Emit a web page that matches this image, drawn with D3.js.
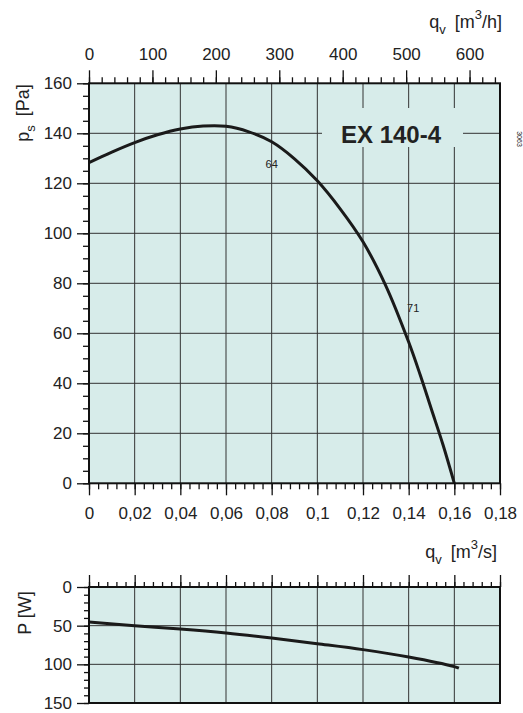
<!DOCTYPE html>
<html>
<head>
<meta charset="utf-8">
<script src="https://cdn.jsdelivr.net/npm/d3@7"></script>
<style>
  body { margin: 0; background: #fff; }
  text { font-family: "Liberation Sans", Arial, sans-serif; fill: #222; }
</style>
</head>
<body>
<div class="chart"></div>
<script>
// fan curve data
const qPs = [0, 0.01, 0.02, 0.03, 0.04, 0.05, 0.06, 0.07, 0.08, 0.09, 0.10, 0.11, 0.12, 0.13, 0.14, 0.145, 0.15, 0.155, 0.16];
const psVals = [128.3, 132.5, 136.3, 139.4, 141.7, 142.9, 142.8, 140.6, 136.6, 129.8, 121.0, 109.8, 96.6, 79.0, 56.5, 43.5, 29.5, 15.5, 0];
const qPw = [0, 0.02, 0.04, 0.06, 0.08, 0.10, 0.12, 0.14, 0.16, 0.162];
const pwVals = [45.3, 50, 54.3, 59.5, 66, 73.3, 81, 90.5, 103, 105];

const qsTicks = [0, 0.02, 0.04, 0.06, 0.08, 0.1, 0.12, 0.14, 0.16, 0.18];
const qhTicks = [0, 100, 200, 300, 400, 500, 600];
const psTicks = [0, 20, 40, 60, 80, 100, 120, 140, 160];
const pwTicks = [0, 50, 100, 150];
const curveLabels = [{q: 0.08, ps: 126, t: "64"}, {q: 0.142, ps: 68.5, t: "71"}];

function init(){
    createChart(".chart");
}

function createChart(id){
    const W = 523, H = 713;
    const bg = "#d7ecea";
    const svg = d3.select(id).append("svg")
        .attr("width", W).attr("height", H);

    const x = d3.scaleLinear().domain([0, 0.18]).range([89, 500]);
    const xh = d3.scaleLinear().domain([0, 0.18 * 3600]).range([89, 500]);
    const y = d3.scaleLinear().domain([0, 160]).range([483.3, 83.3]);
    const yp = d3.scaleLinear().domain([0, 150]).range([587, 703]);
    const fmt = d => String(+d.toFixed(2)).replace(".", ",");

    // ---------- upper chart ----------
    svg.append("rect")
        .attr("x", x(0)).attr("y", y(160))
        .attr("width", x(0.18) - x(0)).attr("height", y(0) - y(160))
        .attr("fill", bg);

    const grid = svg.append("g").attr("stroke", "#333").attr("stroke-width", 1);
    grid.selectAll(".vg").data(qsTicks.slice(1, -1)).join("line")
        .attr("x1", d => x(d)).attr("x2", d => x(d))
        .attr("y1", y(160)).attr("y2", y(0));
    grid.selectAll(".hg").data(psTicks.slice(1, -1)).join("line")
        .attr("x1", x(0)).attr("x2", x(0.18))
        .attr("y1", d => y(d)).attr("y2", d => y(d));

    // box behind the model name hides the grid
    svg.append("rect")
        .attr("x", 322).attr("y", 108).attr("width", 141).attr("height", 39)
        .attr("fill", bg);
    svg.append("text")
        .attr("x", 391).attr("y", 142.5)
        .attr("text-anchor", "middle")
        .style("font-size", "24px").style("font-weight", "bold")
        .text("EX 140-4");

    // curve
    const line = d3.line()
        .x(d => x(d[0])).y(d => y(d[1]))
        .curve(d3.curveCatmullRom);
    svg.append("path")
        .datum(qPs.map((q, i) => [q, psVals[i]]))
        .attr("d", line)
        .attr("fill", "none").attr("stroke", "#1a1a1a").attr("stroke-width", 3);

    svg.selectAll(".cl").data(curveLabels).join("text")
        .attr("x", d => x(d.q)).attr("y", d => y(d.ps))
        .attr("text-anchor", "middle")
        .style("font-size", "11px")
        .text(d => d.t);

    // frame
    svg.append("rect")
        .attr("x", x(0)).attr("y", y(160))
        .attr("width", x(0.18) - x(0)).attr("height", y(0) - y(160))
        .attr("fill", "none").attr("stroke", "#111").attr("stroke-width", 2);

    // bottom axis m3/s
    svg.append("g").attr("transform", `translate(0,${y(0)})`)
        .call(d3.axisBottom(x).tickValues(qsTicks).tickSize(12).tickPadding(12).tickFormat(fmt));
    svg.append("g").attr("transform", `translate(0,${y(0)})`)
        .call(d3.axisBottom(x).tickValues(d3.range(0, 0.1801, 0.004)).tickSize(6).tickFormat(""));
    // top axis m3/h
    svg.append("g").attr("transform", `translate(0,${y(160)})`)
        .call(d3.axisTop(xh).tickValues(qhTicks).tickSize(13).tickPadding(10));
    svg.append("g").attr("transform", `translate(0,${y(160)})`)
        .call(d3.axisTop(xh).tickValues(d3.range(0, 641, 20)).tickSize(6).tickFormat(""));
    // left axis Pa
    svg.append("g").attr("transform", `translate(${x(0)},0)`)
        .call(d3.axisLeft(y).tickValues(psTicks).tickSize(12).tickPadding(5));
    svg.append("g").attr("transform", `translate(${x(0)},0)`)
        .call(d3.axisLeft(y).tickValues(d3.range(0, 161, 5)).tickSize(6).tickFormat(""));

    // ---------- lower chart ----------
    svg.append("rect")
        .attr("x", x(0)).attr("y", yp(0))
        .attr("width", x(0.18) - x(0)).attr("height", yp(150) - yp(0))
        .attr("fill", bg);
    const grid2 = svg.append("g").attr("stroke", "#333").attr("stroke-width", 1);
    grid2.selectAll(".vg").data(qsTicks.slice(1, -1)).join("line")
        .attr("x1", d => x(d)).attr("x2", d => x(d))
        .attr("y1", yp(0)).attr("y2", yp(150));
    grid2.selectAll(".hg").data(pwTicks.slice(1, -1)).join("line")
        .attr("x1", x(0)).attr("x2", x(0.18))
        .attr("y1", d => yp(d)).attr("y2", d => yp(d));

    const line2 = d3.line()
        .x(d => x(d[0])).y(d => yp(d[1]))
        .curve(d3.curveCatmullRom);
    svg.append("path")
        .datum(qPw.map((q, i) => [q, pwVals[i]]))
        .attr("d", line2)
        .attr("fill", "none").attr("stroke", "#1a1a1a").attr("stroke-width", 3);

    svg.append("rect")
        .attr("x", x(0)).attr("y", yp(0))
        .attr("width", x(0.18) - x(0)).attr("height", yp(150) - yp(0))
        .attr("fill", "none").attr("stroke", "#111").attr("stroke-width", 2);

    svg.append("g").attr("transform", `translate(0,${yp(0)})`)
        .call(d3.axisTop(x).tickValues(qsTicks).tickSize(12).tickFormat(""));
    svg.append("g").attr("transform", `translate(0,${yp(0)})`)
        .call(d3.axisTop(x).tickValues(d3.range(0, 0.1801, 0.004)).tickSize(5).tickFormat(""));
    svg.append("g").attr("transform", `translate(${x(0)},0)`)
        .call(d3.axisLeft(yp).tickValues(pwTicks).tickSize(12).tickPadding(5));
    svg.append("g").attr("transform", `translate(${x(0)},0)`)
        .call(d3.axisLeft(yp).tickValues(d3.range(0, 151, 10)).tickSize(5).tickFormat(""));

    // axis styling
    svg.selectAll(".domain").remove();
    svg.selectAll(".tick line").attr("stroke", "#111").attr("stroke-width", 1.3);
    svg.selectAll(".tick text").style("font-size", "17px").attr("fill", "#222")
        .style("font-family", "'Liberation Sans', Arial, sans-serif");

    // ---------- axis titles ----------
    const qh = svg.append("text").attr("x", 502).attr("y", 28)
        .attr("text-anchor", "end").style("font-size", "18px");
    qh.append("tspan").text("q");
    qh.append("tspan").attr("dy", 6).style("font-size", "13px").text("v");
    qh.append("tspan").attr("dy", -6).text("\u2002[m");
    qh.append("tspan").attr("dy", -9).style("font-size", "13px").text("3");
    qh.append("tspan").attr("dy", 9).text("/h]");

    const qs = svg.append("text").attr("x", 497).attr("y", 558)
        .attr("text-anchor", "end").style("font-size", "18px");
    qs.append("tspan").text("q");
    qs.append("tspan").attr("dy", 6).style("font-size", "13px").text("v");
    qs.append("tspan").attr("dy", -6).text("\u2002[m");
    qs.append("tspan").attr("dy", -9).style("font-size", "13px").text("3");
    qs.append("tspan").attr("dy", 9).text("/s]");

    const ps = svg.append("text")
        .attr("transform", "translate(29,113) rotate(-90)")
        .attr("text-anchor", "middle").style("font-size", "18px");
    ps.append("tspan").text("p");
    ps.append("tspan").attr("dy", 6).style("font-size", "13px").text("s");
    ps.append("tspan").attr("dy", -6).text("\u2002[Pa]");

    svg.append("text")
        .attr("transform", "translate(31,613) rotate(-90)")
        .attr("text-anchor", "middle").style("font-size", "18px")
        .text("P [W]");

    svg.append("text")
        .attr("transform", "translate(517,139) rotate(90)")
        .attr("text-anchor", "middle").style("font-size", "7px")
        .attr("fill", "#555")
        .text("3063");
}

init();
</script>
</body>
</html>
